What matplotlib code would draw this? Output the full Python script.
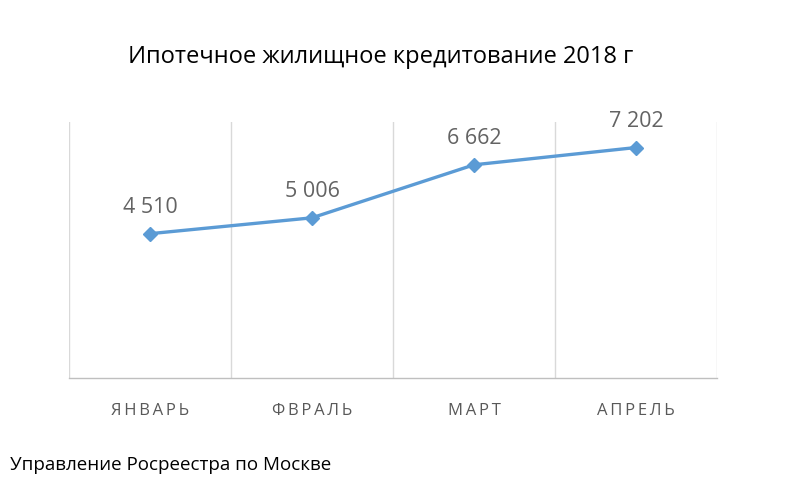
import matplotlib
matplotlib.use('Agg')
import matplotlib.pyplot as plt

# Данные
months = ['ЯНВАРЬ', 'ФВРАЛЬ', 'МАРТ', 'АПРЕЛЬ']
credits = [4510, 5006, 6662, 7202]
value_labels = ['4 510', '5 006', '6 662', '7 202']

plt.rcParams['font.family'] = ['Open Sans', 'DejaVu Sans']

fig = plt.figure(figsize=(8, 4.89), dpi=100)
ax = fig.add_axes([0.08625, 0.2249, 0.81, 0.5236])

x = list(range(len(months)))
ax.plot(x, credits, color='#5B9BD5', linewidth=2.4, marker='D', markersize=7)

for xi, yi, lab in zip(x, credits, value_labels):
    ax.annotate(lab, (xi, yi), xytext=(0, 12), textcoords='offset points',
                ha='center', va='bottom', fontsize=15.5, color='#636363')

ax.set_xlim(-0.5, 3.5)
ax.set_ylim(0, 8000)

# вертикальные линии сетки на границах категорий
for b in [-0.5, 0.5, 1.5, 2.5, 3.5]:
    ax.axvline(b, color='#D9D9D9', linewidth=1, zorder=0)

for s in ['top', 'right', 'left']:
    ax.spines[s].set_visible(False)
ax.spines['bottom'].set_color('#BFBFBF')
ax.spines['bottom'].set_linewidth(1)

ax.set_yticks([])
ax.set_xticks(x)
ax.set_xticklabels(['\u2009'.join(m) for m in months], fontsize=12, color='#595959')
ax.tick_params(axis='x', length=0, pad=17)

fig.text(0.476, 0.884, 'Ипотечное жилищное кредитование 2018 г',
         ha='center', va='center', fontsize=17, color='black')
fig.text(0.0125, 0.05, 'Управление Росреестра по Москве',
         ha='left', va='center', fontsize=13.5, color='black')

fig.savefig('out.png', dpi=100)
